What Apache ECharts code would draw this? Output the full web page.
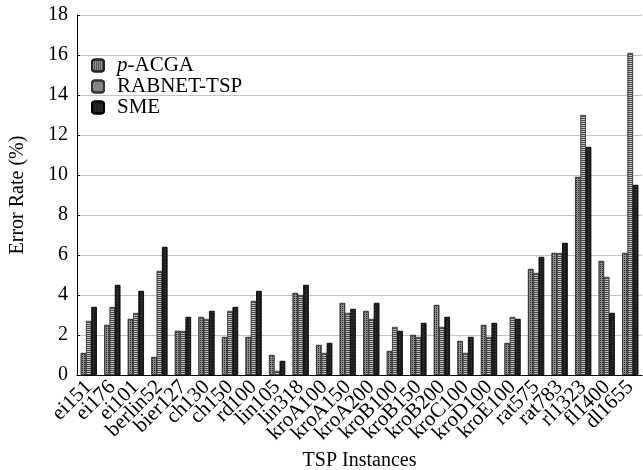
<!DOCTYPE html>
<html>
<head>
<meta charset="utf-8">
<script src="https://cdn.jsdelivr.net/npm/echarts@6/dist/echarts.min.js"></script>
<style>
    html, body { margin: 0; padding: 0; background: #fff; }
    #main { width: 643px; height: 470px; }
</style>
</head>
<body>
<div id="main"></div>
<script>
var instances = ['ei151', 'ei176', 'ei101', 'berlin52', 'bier127', 'ch130', 'ch150', 'rd100',
    'lin105', 'lin318', 'kroA100', 'kroA150', 'kroA200', 'kroB100', 'kroB150', 'kroB200',
    'kroC100', 'kroD100', 'kroE100', 'rat575', 'rat783', 'rl1323', 'fl1400', 'dl1655']
var pACGA = [1.1, 2.5, 2.8, 0.9, 2.2, 2.9, 1.9, 1.9, 1.0, 4.1, 1.5, 3.6, 3.2, 1.2, 2.0, 3.5,
    1.7, 2.5, 1.6, 5.3, 6.1, 9.9, 5.7, 6.1]
var rabnet = [2.7, 3.4, 3.1, 5.2, 2.2, 2.8, 3.2, 3.7, 0.2, 4.0, 1.1, 3.1, 2.8, 2.4, 1.9, 2.4,
    1.1, 1.9, 2.9, 5.1, 6.1, 13.0, 4.9, 16.1]
var sme = [3.4, 4.5, 4.2, 6.4, 2.9, 3.2, 3.4, 4.2, 0.7, 4.5, 1.6, 3.3, 3.6, 2.2, 2.6, 2.9,
    1.9, 2.6, 2.8, 5.9, 6.6, 11.4, 3.1, 9.5]
var yTicks = {min: 0, max: 18, interval: 2}

var serif = 'Liberation Serif'

function getBarChart() {
    var el = document.getElementById('main')
    var chart = echarts.init(el)
    var option = {
        animation: false,
        textStyle: {fontFamily: serif, color: '#000'},
        grid: {left: 77, right: 1, top: 15, bottom: 95, outerBoundsMode: 'none'},
        legend: {
            orient: 'vertical',
            left: 86,
            top: 50,
            itemGap: 0,
            itemWidth: 12,
            itemHeight: 12,
            textStyle: {
                fontFamily: serif,
                fontSize: 21,
                color: '#000',
                lineHeight: 21,
                padding: [0, 0, 0, 8],
                rich: {
                    i: {fontStyle: 'italic', fontFamily: serif, fontSize: 21, color: '#000'}
                }
            },
            formatter: function (name) {
                return name === 'p-ACGA' ? '{i|p}-ACGA' : name
            },
            data: ['p-ACGA', 'RABNET-TSP', 'SME']
        },
        xAxis: {
            type: 'category',
            data: instances,
            name: 'TSP Instances',
            nameLocation: 'middle',
            nameGap: 75,
            nameTextStyle: {fontFamily: serif, fontSize: 20, color: '#000'},
            axisLine: {lineStyle: {color: '#000', width: 1}},
            axisTick: {show: false},
            axisLabel: {
                interval: 0,
                rotate: 45,
                margin: 9,
                fontFamily: serif,
                fontSize: 21,
                color: '#000'
            }
        },
        yAxis: {
            type: 'value',
            min: yTicks.min,
            max: yTicks.max,
            interval: yTicks.interval,
            name: 'Error Rate (%)',
            nameLocation: 'middle',
            nameGap: 49,
            nameTextStyle: {fontFamily: serif, fontSize: 20, color: '#000'},
            axisLine: {show: true, lineStyle: {color: '#000', width: 1}},
            axisTick: {show: true, inside: true, length: 3, lineStyle: {color: '#000'}},
            axisLabel: {fontFamily: serif, fontSize: 20, color: '#000', margin: 9},
            splitLine: {show: true, lineStyle: {color: '#c4c4c4', width: 1}}
        },
        series: [
            {
                name: 'p-ACGA',
                type: 'bar',
                data: pACGA,
                barGap: '0%',
                barCategoryGap: '32%',
                itemStyle: {
                    color: '#8c8c8c',
                    borderColor: '#222',
                    borderWidth: 0.6,
                    decal: {symbol: 'rect', symbolSize: 1, dashArrayX: [1, 1], dashArrayY: [1, 1], color: '#2a2a2a'}
                }
            },
            {
                name: 'RABNET-TSP',
                type: 'bar',
                data: rabnet,
                itemStyle: {
                    color: '#c0c0c0',
                    borderColor: '#333',
                    borderWidth: 0.6,
                    decal: {symbol: 'rect', symbolSize: 1, dashArrayX: [1, 0], dashArrayY: [1, 1], color: '#4a4a4a'}
                }
            },
            {
                name: 'SME',
                type: 'bar',
                data: sme,
                itemStyle: {
                    color: '#1e1e1e',
                    borderColor: '#000',
                    borderWidth: 0.6,
                    decal: {symbol: 'rect', symbolSize: 1, dashArrayX: [1, 2], dashArrayY: [1, 2], color: '#444'}
                }
            }
        ]
    }
    chart.setOption(option)
}

getBarChart()
</script>
</body>
</html>
